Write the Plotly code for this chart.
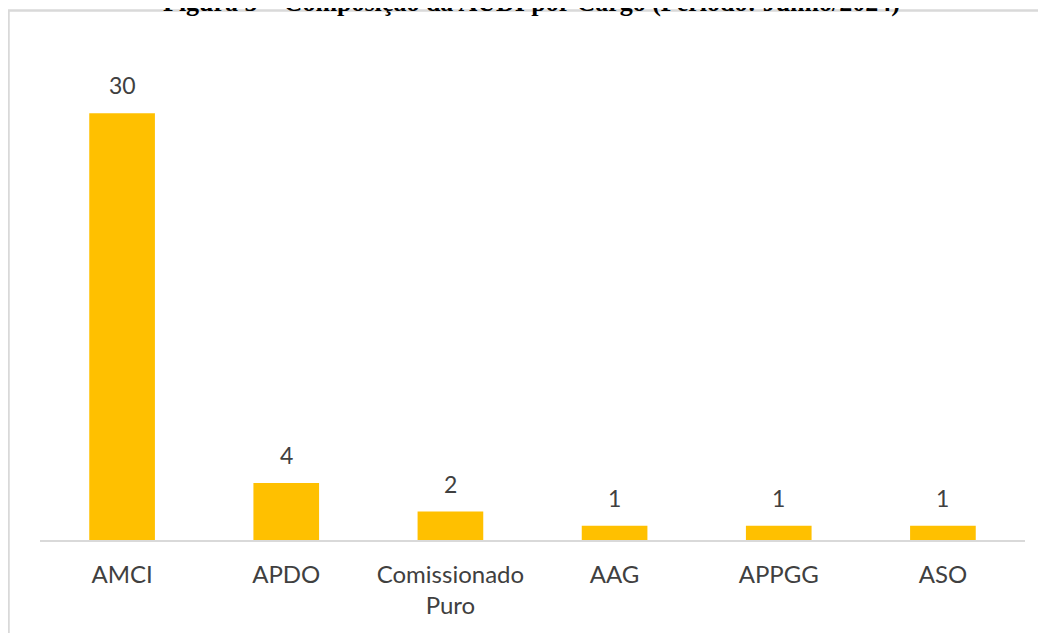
import plotly.graph_objects as go

categories = ["AMCI", "APDO", "Comissionado<br>Puro", "AAG", "APPGG", "ASO"]
values = [30, 4, 2, 1, 1, 1]
title_text = "Figura 5 – Composição da AUDI por Cargo (Período: Junho/2024)"

# page has an 8px body margin; figure coordinates are page coordinates minus 8
W, H = 1038, 625
L, T = 32, 34
pw, ph = 985, 498
R, B = W - L - pw, H - T - ph
base = T + ph  # baseline y in figure px

fig = go.Figure()
fig.add_trace(go.Bar(x=categories, y=values, marker=dict(color="#FFC000", line=dict(width=0)),
                     hoverinfo="skip"))

for c, v in zip(categories, values):
    fig.add_annotation(x=c, y=v, text=str(v), showarrow=False, yanchor="bottom", yshift=12,
                       font=dict(family="Lato", size=23, color="#404040"))

fig.add_annotation(xref="paper", yref="paper", x=(523 - L) / pw, y=(base + 5) / ph,
                   xanchor="center", yanchor="middle", showarrow=False,
                   text="<b>" + title_text + "</b>",
                   font=dict(family="Liberation Serif", size=26, color="#000000"))

fig.add_shape(type="rect", xref="paper", yref="paper",
              x0=(0.5 - L) / pw, x1=(1050 - L) / pw,
              y0=(base - 700) / ph, y1=(base - 2.5) / ph,
              line=dict(color="#d9d9d9", width=2.5), fillcolor="rgba(0,0,0,0)", layer="below")

fig.update_layout(
    width=W, height=H, margin=dict(l=L, r=R, t=T, b=B),
    paper_bgcolor="white", plot_bgcolor="white", bargap=0.6, showlegend=False,
    xaxis=dict(showline=True, linecolor="#d9d9d9", linewidth=2, showgrid=False, ticks="",
               ticklabelstandoff=12,
               tickfont=dict(family="Lato", size=24, color="#404040")),
    yaxis=dict(range=[0, 35], visible=False, showgrid=False),
)

fig.write_html("out.html")
